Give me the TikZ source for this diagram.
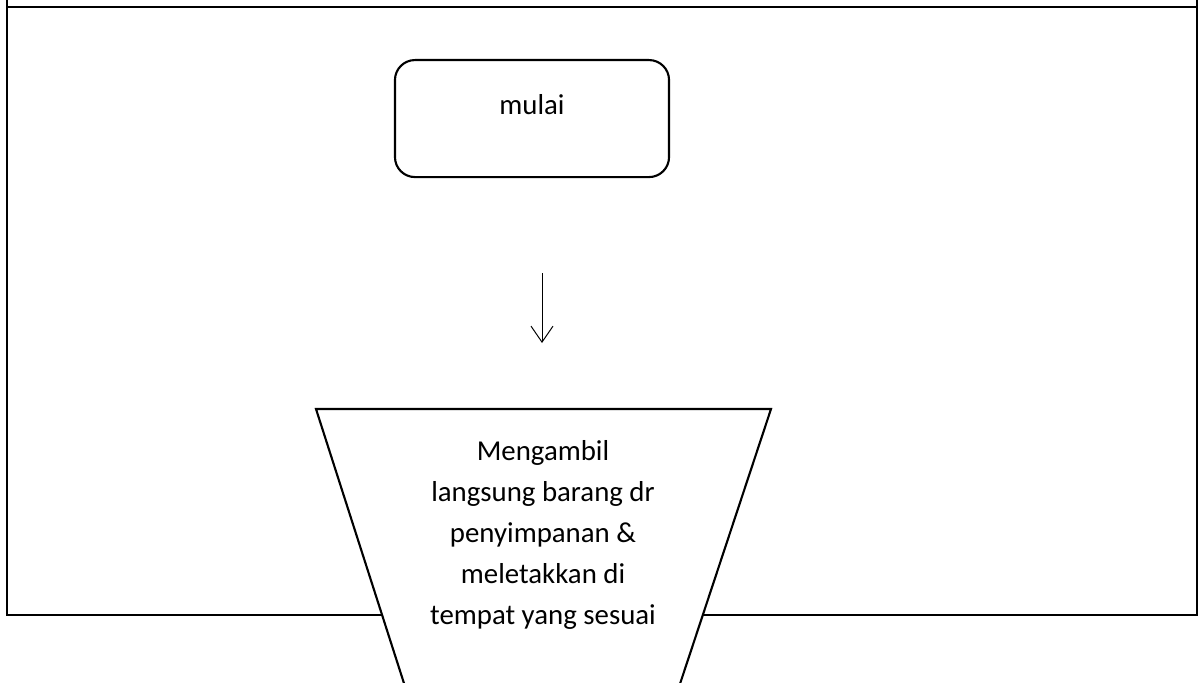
\documentclass[tikz,border=0pt]{standalone}
\usepackage{fontspec}
\setmainfont{Carlito}
\usetikzlibrary{arrows.meta,positioning}

\tikzset{
    frameline/.style={line width=1.6pt, black},
    startbox/.style={draw, line width=1.5pt, rounded corners=0.5cm, inner sep=0pt,
        minimum width=6.85cm, text height=1.37cm, text depth=1.555cm, anchor=north},
    takeshape/.style={draw, line width=1.5pt, fill=white},
    taketext/.style={align=center, inner sep=0pt},
    flowarrow/.style={line width=0.7pt, -{Straight Barb[length=0.4cm, width=0.55cm, line width=0.7pt]}}
}

\begin{document}
\begin{tikzpicture}[x=0.025cm, y=-0.025cm, font=\fontsize{20.5}{29.2}\selectfont]
    \clip (0,0) rectangle (1200,682);
    \fill[white] (0,0) rectangle (1200,682);

    % frame
    \draw[frameline] (7,-10) -- (7,615) -- (1197,615) -- (1197,-10);
    \draw[frameline] (7,7) -- (1197,7);

    % mulai
    \node[startbox] (start) at (532,59) {mulai};

    % arrow
    \coordinate (arrowtop) at (542,273);
    \coordinate (arrowtip) at (542,343);
    \draw[flowarrow] (arrowtop) -- (arrowtip);

    % manual operation
    \draw[takeshape] (316,409) -- (771,409) -- (674,702) -- (410,702) -- cycle;
    \node[taketext] (take) at (543,535)
        {Mengambil\\langsung barang dr\\penyimpanan \&\\meletakkan di\\tempat yang sesuai};
\end{tikzpicture}
\end{document}
